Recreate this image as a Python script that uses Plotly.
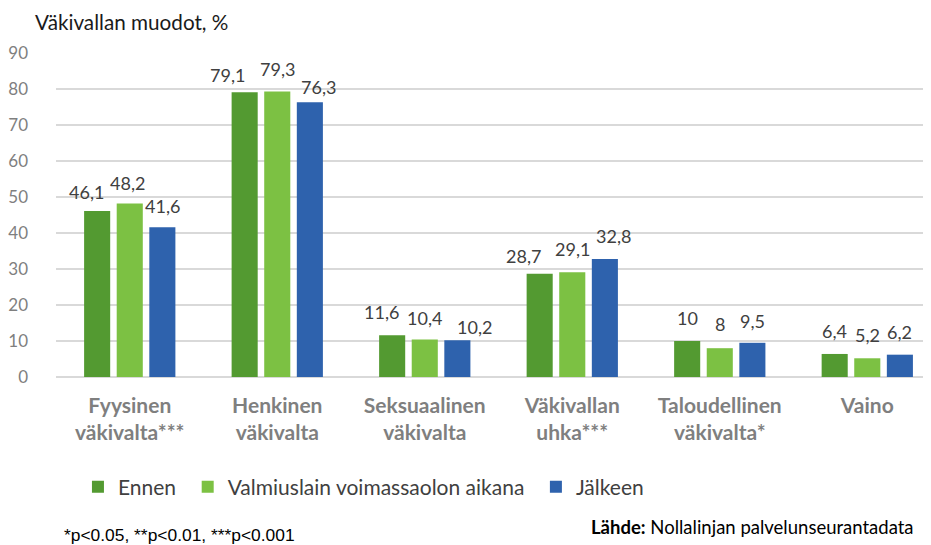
import plotly.graph_objects as go

categories = ["Fyysinen<br>väkivalta***", "Henkinen<br>väkivalta", "Seksuaalinen<br>väkivalta",
              "Väkivallan<br>uhka***", "Taloudellinen<br>väkivalta*", "Vaino"]
series_names = ["Ennen", "Valmiuslain voimassaolon aikana", "Jälkeen"]
ennen = [46.1, 79.1, 11.6, 28.7, 10, 6.4]
aikana = [48.2, 79.3, 10.4, 29.1, 8, 5.2]
jalkeen = [41.6, 76.3, 10.2, 32.8, 9.5, 6.2]
y_ticks = [0, 10, 20, 30, 40, 50, 60, 70, 80, 90]
colors = ["#539A31", "#7CC143", "#2E62AD"]

# label nudges (px) to mimic the reference's overlap-avoiding placement
label_dx = [[-11, -17, -11, -16, 0, 0], [-2, 0, 0, 0, 0, 0], [0, 9, 17, 9, 0, 0]]
label_dy = [[-4, -6, 0, -5, 0, 0], [-3, 0, -1, 0, 1, 0], [-2, -8, -10, 0, -1, 0]]
legend_left_px = [76, 186, 535]  # screen x of each legend entry

OFF = 8  # page body margin
W, H = 931 - OFF, 545 - OFF
L, R, T, B = 54 - OFF, 931 - OFF, 53 - OFF, 377 - OFF  # plot area in figure px
X0, X1 = -0.5, 5.432

def px_x(px):
    return (px - L) / (R - L)

def px_y(py):
    return (B - py) / (B - T)

def fmt(v):
    s = f"{v:.1f}".replace(".", ",")
    return s[:-2] if s.endswith(",0") else s

BARGAP, GROUPGAP = 0.337, 0.2

fig = go.Figure()
all_series = [ennen, aikana, jalkeen]
legend_ids = ["legend", "legend2", "legend3"]
for name, vals, col, lid in zip(series_names, all_series, colors, legend_ids):
    fig.add_trace(go.Bar(
        x=list(range(len(categories))), y=vals, name=name,
        marker=dict(color=col, line=dict(width=0)),
        hoverinfo="y+name", legend=lid,
    ))

# data labels
cat_px = (R - L) / (X1 - X0)
pitch = cat_px * (1 - BARGAP) / 3
for i, vals in enumerate(all_series):
    for j, v in enumerate(vals):
        fig.add_annotation(
            x=j, y=v, text=fmt(v), showarrow=False,
            xshift=(i - 1) * pitch + label_dx[i][j], yshift=23 + label_dy[i][j],
            yanchor="middle", xanchor="center",
            font=dict(family="Lato", size=18, color="#404040"),
        )

fig.add_annotation(xref="paper", yref="paper", x=px_x(60 - OFF), y=px_y(H + 2),
                   text="*p<0.05, **p<0.01, ***p<0.001", showarrow=False,
                   xanchor="left", yanchor="bottom",
                   font=dict(family="Liberation Sans", size=17.4, color="#000000"))
fig.add_annotation(xref="paper", yref="paper", x=px_x(916 - OFF), y=px_y(527 - OFF),
                   text="<b>Lähde:</b> Nollalinjan palvelunseurantadata", showarrow=False,
                   xanchor="right", yanchor="middle",
                   font=dict(family="Lato", size=18.5, color="#000000"))

legend_style = dict(orientation="h", xref="paper", yref="paper",
                    y=px_y(487 - OFF), xanchor="left", yanchor="middle",
                    font=dict(family="Lato", size=21, color="#404040"),
                    itemwidth=30, bgcolor="rgba(0,0,0,0)")
legends = {}
for lid, lx in zip(legend_ids, legend_left_px):
    legends[lid] = dict(legend_style, x=px_x(lx - OFF))

fig.update_layout(
    width=W, height=H,
    margin=dict(l=L, r=W - R, t=T, b=H - B, pad=0),
    paper_bgcolor="white", plot_bgcolor="white",
    barmode="group", bargap=BARGAP, bargroupgap=GROUPGAP,
    title=dict(text="Väkivallan muodot, %", xref="container", yref="container",
               x=(35 - OFF) / W, y=1 - (23 - OFF) / H, xanchor="left", yanchor="middle",
               font=dict(family="Lato", size=20.7, color="#1a1a1a")),
    font=dict(family="Lato"),
    showlegend=True,
    **legends,
    xaxis=dict(tickmode="array", tickvals=list(range(len(categories))),
               ticktext=["<b>" + c.replace("<br>", "</b><br><b>") + "</b>" for c in categories],
               range=[X0, X1], showgrid=False, zeroline=False, showline=False,
               ticks="", ticklabelstandoff=14,
               tickfont=dict(family="Lato", size=21, color="#7f7f7f", weight=900)),
    yaxis=dict(range=[0, 90], tickvals=y_ticks, showgrid=True, gridcolor="#d9d9d9", gridwidth=1.5,
               zeroline=True, zerolinecolor="#d9d9d9", zerolinewidth=1.5, showline=False,
               ticks="", ticklabelstandoff=27,
               tickfont=dict(family="Lato", size=17, color="#7f7f7f")),
)

fig.write_html("out.html")
